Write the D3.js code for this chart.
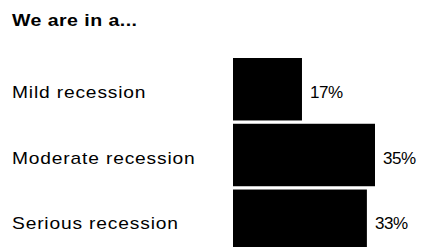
<!DOCTYPE html>
<html lang="en">
<head>
  <meta charset="UTF-8">
  <title>We are in a...</title>
  <script src="https://d3js.org/d3.v7.min.js"></script>
  <style>
    body { margin: 0; background: #fff; }
    text { font-family: "Liberation Sans", Arial, Helvetica, sans-serif; fill: #000; }
  </style>
</head>
<body>
<script>
  // chart data
  var categories = ["Mild recession", "Moderate recession", "Serious recession"];
  var values = [17, 35, 33];
  var title = "We are in a...";

  var width = 425, height = 247,
    barLeft = 233;

  var svg = d3.select("body").append("svg")
    .attr("width", width)
    .attr("height", height);

  var x = d3.scaleLinear()
    .domain([0, 35])
    .range([0, 142]);

  var y = d3.scaleBand()
    .domain(categories)
    .range([58, 252])
    .paddingInner(0.05)
    .paddingOuter(0);

  // the original type is set wide, so stretch it a little
  svg.append("text")
    .attr("transform", "translate(12,26) scale(1.15,1)")
    .style("font-size", "17px")
    .style("font-weight", "bold")
    .style("letter-spacing", "0.4px")
    .text(title);

  var rows = svg.selectAll(".row")
    .data(categories)
    .enter().append("g")
    .attr("class", "row");

  rows.append("rect")
    .attr("x", barLeft)
    .attr("y", function (d) { return y(d); })
    .attr("width", function (d, i) { return x(values[i]); })
    .attr("height", y.bandwidth())
    .style("fill", "#000");

  rows.append("text")
    .attr("transform", function (d) {
      return "translate(12," + (y(d) + y.bandwidth() / 2 + 8.5) + ") scale(1.2,1)";
    })
    .style("font-size", "16px")
    .style("letter-spacing", "0.7px")
    .text(function (d) { return d; });

  rows.append("text")
    .attr("x", function (d, i) { return barLeft + x(values[i]) + 8; })
    .attr("y", function (d) { return y(d) + y.bandwidth() / 2 + 8.5; })
    .style("font-size", "17px")
    .style("letter-spacing", "-0.4px")
    .text(function (d, i) { return values[i] + "%"; });
</script>
</body>
</html>
